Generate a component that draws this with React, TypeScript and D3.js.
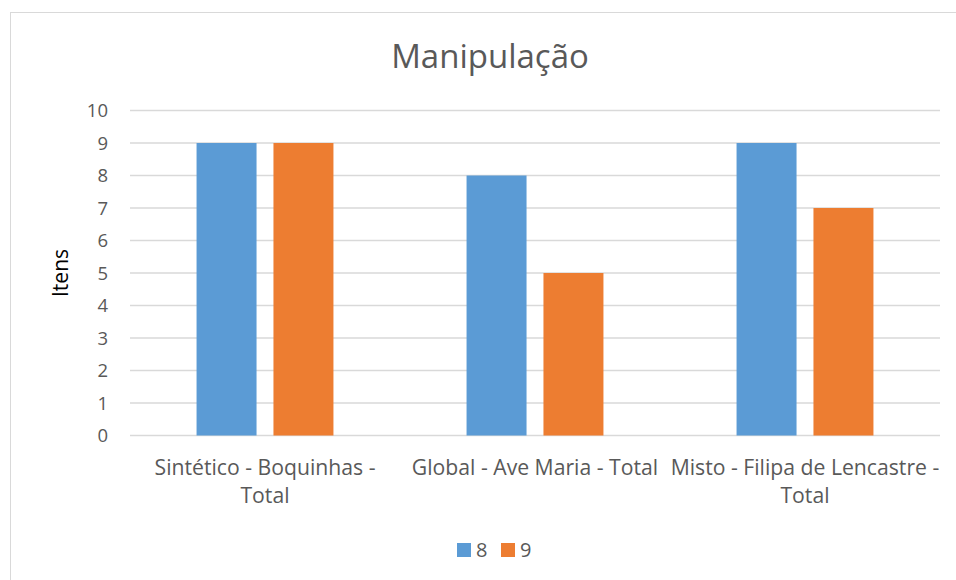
import React from 'react';
import * as d3 from 'd3';

// data
const categories = ['Sintético - Boquinhas - Total', 'Global - Ave Maria - Total', 'Misto - Filipa de Lencastre - Total'];
const categoryLines = [['Sintético - Boquinhas -', 'Total'], ['Global - Ave Maria - Total'], ['Misto - Filipa de Lencastre -', 'Total']];
const seriesNames = ['8', '9'];
const values8 = [9, 8, 9];
const values9 = [9, 5, 7];
const yTicks = [0, 1, 2, 3, 4, 5, 6, 7, 8, 9, 10];

const W = 956;
const H = 580;
const colors: Record<string, string> = { '8': '#5B9BD5', '9': '#ED7D31' };
const font = '"Open Sans", Lato, sans-serif';

export default function App() {
  const plot = { left: 130, right: 940, top: 110.5, bottom: 435.5 };

  const x0 = d3.scaleBand<string>().domain(categories).range([plot.left, plot.right]).paddingInner(0.493).paddingOuter(0.2465);
  const x1 = d3.scaleBand<string>().domain(seriesNames).range([0, x0.bandwidth()]).paddingInner(0.22).paddingOuter(0);
  const y = d3.scaleLinear().domain([0, 10]).range([plot.bottom, plot.top]);

  const series = [values8, values9];

  return (
    <svg width={W} height={H} style={{ position: 'absolute', left: 0, top: 0, background: '#fff' }}>
      <rect x={10.5} y={12.5} width={W} height={H} fill="#fff" stroke="#D9D9D9" strokeWidth={1} />
      <text x={490} y={68} textAnchor="middle" fontFamily={font} fontSize={33} fill="#595959">Manipulação</text>

      {/* gridlines and y ticks */}
      {yTicks.map(t => (
        <g key={t}>
          <line x1={plot.left} x2={plot.right} y1={y(t)} y2={y(t)} stroke="#D9D9D9" strokeWidth={1.5} />
          <text x={108} y={y(t)} dy="0.36em" textAnchor="end" fontFamily={font} fontSize={18.5} fill="#595959">{t}</text>
        </g>
      ))}

      {/* bars */}
      {categories.map((c, ci) => (
        <g key={c} transform={`translate(${x0(c)},0)`}>
          {seriesNames.map((s, si) => (
            <rect key={s} x={x1(s)} y={y(series[si][ci])} width={x1.bandwidth()} height={y(0) - y(series[si][ci])} fill={colors[s]} />
          ))}
        </g>
      ))}

      {/* category labels */}
      {categories.map((c, ci) => (
        <text key={c} x={(x0(c) as number) + x0.bandwidth() / 2} y={475} textAnchor="middle" fontFamily={font} fontSize={21.2} fill="#595959">
          {categoryLines[ci].map((l, li) => (
            <tspan key={li} x={(x0(c) as number) + x0.bandwidth() / 2} dy={li === 0 ? 0 : 28}>{l}</tspan>
          ))}
        </text>
      ))}

      <text transform="translate(68,273) rotate(-90)" textAnchor="middle" fontFamily={font} fontSize={21} fill="#000">Itens</text>

      {/* legend */}
      {seriesNames.map((s, i) => (
        <g key={s} transform={`translate(${457 + i * 44},543)`}>
          <rect width={14} height={14} fill={colors[s]} />
          <text x={19} y={7} dy="0.36em" fontFamily={font} fontSize={20} fill="#595959">{s}</text>
        </g>
      ))}
    </svg>
  );
}
